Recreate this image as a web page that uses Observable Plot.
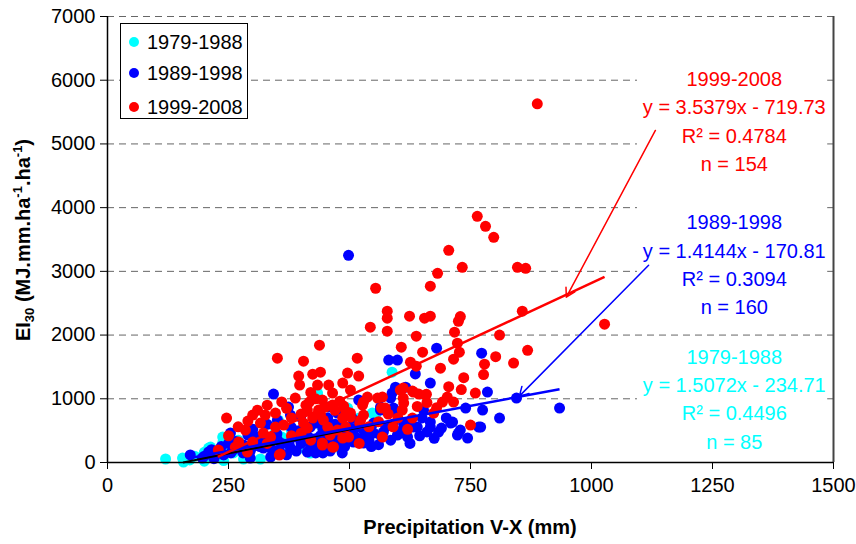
<!DOCTYPE html>
<html><head><meta charset="utf-8">
<script src="https://cdn.jsdelivr.net/npm/d3@7"></script>
<script src="https://cdn.jsdelivr.net/npm/@observablehq/plot@0.6"></script>
<style>
body{margin:0;background:#fff;font-family:"Liberation Sans",Arial,sans-serif;}
#wrap{position:relative;width:856px;height:544px;}
#legend{position:absolute;left:120px;top:23px;width:126px;height:94px;border:1px solid #000;background:#fff;}
.item{position:absolute;left:0;height:24px;font-size:20px;line-height:24px;color:#000;white-space:nowrap;}
.item .dot{position:absolute;left:8px;top:7px;width:10px;height:10px;border-radius:50%;}
.item .lab{position:absolute;left:26px;top:0;}
</style></head>
<body><div id="wrap"><div id="legend"></div></div>
<script>
// ---- data ----
const periods = ["1979-1988", "1989-1998", "1999-2008"];
const colors = ["#00FFFF", "#0000FF", "#FF0000"];
const trendColors = ["#000000", "#0000FF", "#FF0000"];
const slopes = [1.5072, 1.4144, 3.5379];
const intercepts = [-234.71, -170.81, -719.73];
const r2 = ["0.4496", "0.3094", "0.4784"];
const ns = [85, 160, 154];
const trendXmin = [156, 171, 228];
const trendXmax = [588, 934, 1027];
const xTicks = [0, 250, 500, 750, 1000, 1250, 1500];
const yTicks = [0, 1000, 2000, 3000, 4000, 5000, 6000, 7000];

const cyanX = [120,155,157,209,238,316,281,588,434,353,554,419,347,547,475,496,310,351,213,238,285,399,180,200,225,250,260,270,300,330,360,380,410,440,460,500,520,240,200,170];
const cyanY = [55,70,8,227,306,55,55,1418,1089,666,745,149,478,776,243,854,400,635,243,400,86,227,100,160,120,200,150,350,300,250,400,500,350,600,520,500,700,30,20,40];

const blueX = [498,680,773,599,581,636,667,785,845,934,810,740,775,713,771,725,744,684,667,595,616,585,519,564,599,626,632,667,570,605,529,550,488,461,498,475,343,374,399,457,564,508,475,413,378,351,426,543,516,419,351,171,209,254,240,295,337,322,281,196,378,653,612,640,599,588,591,709,767,729,723,
  260,280,300,310,320,340,350,360,370,380,390,400,410,420,430,440,450,460,470,480,490,500,510,520,530,540,550,560,575,590,610,620,650,660,700,690,230,220,265,300,330,390,430,455,505,250,290,
  200,215,235,255,275,295,315,335,355,375,395,415,435,445,465,485,525,545,565,585,625,645,675,485,445,625];
const blueY = [3252,1795,1716,1607,1607,1390,1246,1105,1011,854,698,854,823,635,556,462,384,478,635,1183,1183,1011,980,870,776,635,556,556,478,462,306,462,353,509,509,776,1074,870,713,870,823,321,274,165,227,353,353,462,556,556,666,118,165,462,118,70,86,227,274,70,745,823,619,556,431,1089,854,619,556,509,431,
  200,150,250,400,330,200,450,300,120,550,400,300,480,250,620,420,320,180,600,450,250,550,420,650,500,350,620,280,560,600,520,400,700,480,700,540,150,60,330,520,600,180,150,700,700,300,430,
  100,200,250,150,250,180,250,350,200,300,500,400,300,520,380,600,380,250,420,350,300,420,380,150,150,620];

const redX = [888,764,781,798,705,733,682,667,554,578,578,624,655,667,729,725,543,578,638,717,810,847,864,857,1027,868,839,723,607,651,727,802,516,715,626,638,688,779,777,496,519,736,486,705,731,760,702,715,659,643,611,611,630,568,537,558,529,566,492,488,612,609,529,521,674,750,568,467,502,475,438,351,405,395,424,440,397,434,457,502,465,388,417,444,465,436,413,527,574,347,364,405,424,446,486,502,523,492,455,413,486,444,465,498,355,246,300,326,285,316,322,271,264,300,229,289,337,347,357,444,692,630,605,632,657,
  420,430,410,440,450,470,480,400,380,370,360,330,310,290,270,250,330,380,400,420,460,520,540,560,580,600,640,660,680,590,620];
const redY = [5630,3864,3707,3534,3331,3064,2970,2767,2735,2375,2265,2296,2265,2296,2290,2217,2124,2061,1983,2045,2000,3064,3048,2375,2171,1760,1560,1873,1810,1732,1732,1660,1638,1622,1575,1512,1481,1544,1380,1403,1356,1332,1246,1190,1145,1089,1027,948,1070,1074,1168,1011,1121,1027,1027,1011,948,854,807,886,933,823,745,619,776,588,400,243,713,509,1842,1638,1591,1356,1387,1418,1215,1215,1215,1136,1089,1011,948,980,901,823,823,901,854,776,588,619,698,666,698,776,666,556,556,541,384,274,243,400,117,697,745,745,509,619,462,321,243,321,196,165,400,556,133,306,948,698,1136,1105,1058,
  1100,1000,900,760,870,820,960,760,700,850,950,900,820,650,560,420,300,420,460,350,430,300,560,640,760,700,880,940,860,560,520];

// annotation layout (data coordinates)
const labelX = 1295;
const labelY = [1027, 3135, 5384];
const boxX1 = 1095, boxX2 = 1488;
const boxY1 = [120, 2270, 4580];
const boxY2 = [1920, 4110, 6330];
const arrowX1 = [1118, 1132], arrowY1 = [3096, 5212];
const arrowX2 = [851, 948], arrowY2 = [1042, 2594];
const arrowColors = ["#0000FF", "#FF0000"];

// ---- build tables ----
const pts = (xs, ys) => xs.map((x, i) => ({x, y: ys[i]}));
const cyanPts = pts(cyanX, cyanY), bluePts = pts(blueX, blueY), redPts = pts(redX, redY);
const trends = periods.map((p, i) => ({
  x1: trendXmin[i], x2: trendXmax[i],
  y1: slopes[i] * trendXmin[i] + intercepts[i],
  y2: slopes[i] * trendXmax[i] + intercepts[i],
  c: trendColors[i], w: i === 0 ? 2 : 2.5
}));
const labels = periods.map((p, i) => ({
  x: labelX, y: labelY[i], c: colors[i],
  t: `${p}\ny = ${slopes[i]}x - ${Math.abs(intercepts[i])}\nR² = ${r2[i]}\nn = ${ns[i]}`
}));
const boxes = boxY1.map((y1, i) => ({x1: boxX1, x2: boxX2, y1, y2: boxY2[i]}));
const arrows = arrowX1.map((x1, i) => ({x1, y1: arrowY1[i], x2: arrowX2[i], y2: arrowY2[i], c: arrowColors[i]}));

const chart = Plot.plot({
  width: 856, height: 544,
  marginLeft: 107, marginRight: 23, marginTop: 16, marginBottom: 82,
  x: {domain: [0, 1500]},
  y: {domain: [0, 7000]},
  style: {fontFamily: '"Liberation Sans", Arial, sans-serif', fontSize: "20px", background: "white", overflow: "visible"},
  marks: [
    Plot.ruleY(yTicks.filter(d => d > 0), {stroke: "#666", strokeWidth: 1, strokeDasharray: "7,5"}),
    Plot.rect(boxes, {x1: "x1", x2: "x2", y1: "y1", y2: "y2", fill: "white"}),
    Plot.dot(cyanPts, {x: "x", y: "y", r: 5.5, fill: colors[0], stroke: "none"}),
    Plot.dot(bluePts, {x: "x", y: "y", r: 5.5, fill: colors[1], stroke: "none"}),
    Plot.dot(redPts, {x: "x", y: "y", r: 5.5, fill: colors[2], stroke: "none"}),
    Plot.link(trends, {x1: "x1", y1: "y1", x2: "x2", y2: "y2", stroke: "c", strokeWidth: "w"}),
    Plot.arrow(arrows, {x1: "x1", y1: "y1", x2: "x2", y2: "y2", stroke: "c", strokeWidth: 1.5, headLength: 10, bend: 0}),
    Plot.text(labels, {x: "x", y: "y", text: "t", fill: "c", fontSize: 20, lineHeight: 1.42, textAnchor: "middle", lineAnchor: "middle"}),
    Plot.ruleX([1500], {stroke: "#444", strokeWidth: 2}),
    Plot.ruleX([0], {stroke: "#000", strokeWidth: 1.5}),
    Plot.ruleY([0], {stroke: "#000", strokeWidth: 1.5}),
    Plot.axisY({ticks: yTicks, tickSize: 7, tickPadding: 5, tickFormat: d3.format("d"), fontSize: 20, label: null, stroke: "#000"}),
    Plot.axisX({ticks: xTicks, tickSize: 7, tickPadding: 8, tickFormat: d3.format("d"), fontSize: 20, label: null, stroke: "#000"})
  ]
});

const svg = d3.select(chart);
svg.append("text")
  .attr("x", 470).attr("y", 534)
  .attr("text-anchor", "middle").attr("font-weight", "bold").attr("font-size", 20).attr("fill", "#000")
  .text("Precipitation V-X (mm)");
const yl = svg.append("text")
  .attr("transform", "translate(30,240) rotate(-90)")
  .attr("text-anchor", "middle").attr("font-weight", "bold").attr("font-size", 20).attr("fill", "#000");
yl.append("tspan").text("EI");
yl.append("tspan").attr("font-size", 13).attr("dy", 4).text("30");
yl.append("tspan").attr("dy", -4).text(" (MJ.mm.ha");
yl.append("tspan").attr("font-size", 13).attr("dy", -8).text("-1");
yl.append("tspan").attr("dy", 8).text(".ha");
yl.append("tspan").attr("font-size", 13).attr("dy", -8).text("-1");
yl.append("tspan").attr("dy", 8).text(")");

const wrap = document.getElementById("wrap");
wrap.insertBefore(chart, wrap.firstChild);
chart.style.position = "absolute"; chart.style.left = "0"; chart.style.top = "0";

const legend = document.getElementById("legend");
const itemTops = [6, 37, 71];
periods.forEach((p, i) => {
  const it = document.createElement("div");
  it.className = "item";
  it.style.top = itemTops[i] + "px";
  it.innerHTML = `<span class="dot" style="background:${colors[i]}"></span><span class="lab">${p}</span>`;
  legend.appendChild(it);
});
</script>
</body></html>
